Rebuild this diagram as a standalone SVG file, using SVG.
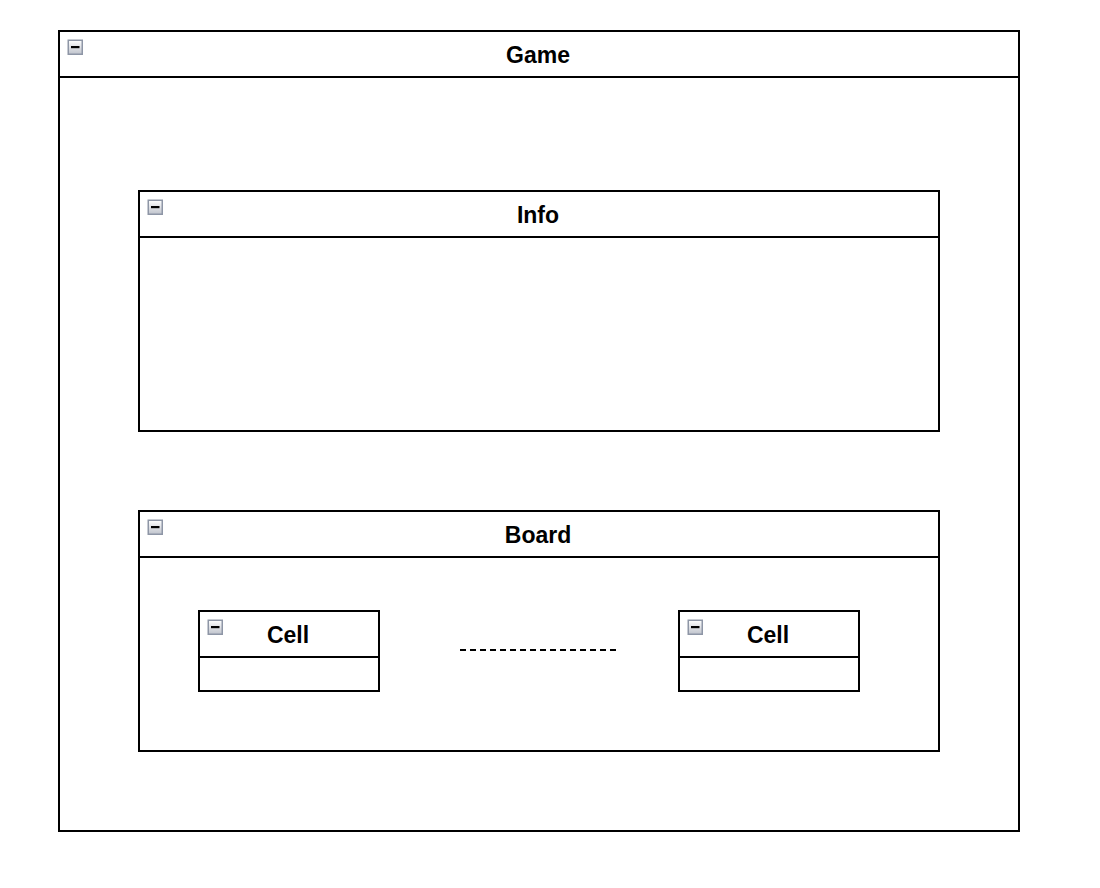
<svg xmlns="http://www.w3.org/2000/svg" width="1100" height="888" viewBox="0 0 1100 888">
<defs>
<linearGradient id="ig" x1="0" y1="0" x2="0" y2="1">
<stop offset="0" stop-color="#ffffff"/>
<stop offset="1" stop-color="#bfc3cc"/>
</linearGradient>
<g id="icon">
<rect x="0.75" y="0.75" width="14" height="14" fill="url(#ig)" stroke="#8e96a6" stroke-width="1.5"/>
<rect x="3.5" y="6.5" width="8.5" height="2.2" fill="#000"/>
</g>
</defs>
<style>
.box{fill:#fff;stroke:#000;stroke-width:2}
.sep{stroke:#000;stroke-width:2}
.t{font-family:"Liberation Sans",Arial,sans-serif;font-weight:bold;font-size:23px;text-anchor:middle;fill:#000}
</style>
<rect width="1100" height="888" fill="#fff"/>
<g id="game">
<rect class="box" x="59" y="31" width="960" height="800"/>
<line class="sep" x1="59" y1="77" x2="1019" y2="77"/>
<use href="#icon" x="67.5" y="39.5"/>
<text class="t" x="538" y="63">Game</text>
</g>
<g id="info">
<rect class="box" x="139" y="191" width="800" height="240"/>
<line class="sep" x1="139" y1="237" x2="939" y2="237"/>
<use href="#icon" x="147.5" y="199.5"/>
<text class="t" x="538" y="223">Info</text>
</g>
<g id="board">
<rect class="box" x="139" y="511" width="800" height="240"/>
<line class="sep" x1="139" y1="557" x2="939" y2="557"/>
<use href="#icon" x="147.5" y="519.5"/>
<text class="t" x="538" y="543">Board</text>
</g>
<g id="cell1">
<rect class="box" x="199" y="611" width="180" height="80"/>
<line class="sep" x1="199" y1="657" x2="379" y2="657"/>
<use href="#icon" x="207.5" y="619.5"/>
<text class="t" x="288" y="643">Cell</text>
</g>
<g id="cell2">
<rect class="box" x="679" y="611" width="180" height="80"/>
<line class="sep" x1="679" y1="657" x2="859" y2="657"/>
<use href="#icon" x="687.5" y="619.5"/>
<text class="t" x="768" y="643">Cell</text>
</g>
<g id="connectors">
<line x1="460" y1="650" x2="619" y2="650" stroke="#000" stroke-width="2" stroke-dasharray="6 4"/>
</g>
</svg>
